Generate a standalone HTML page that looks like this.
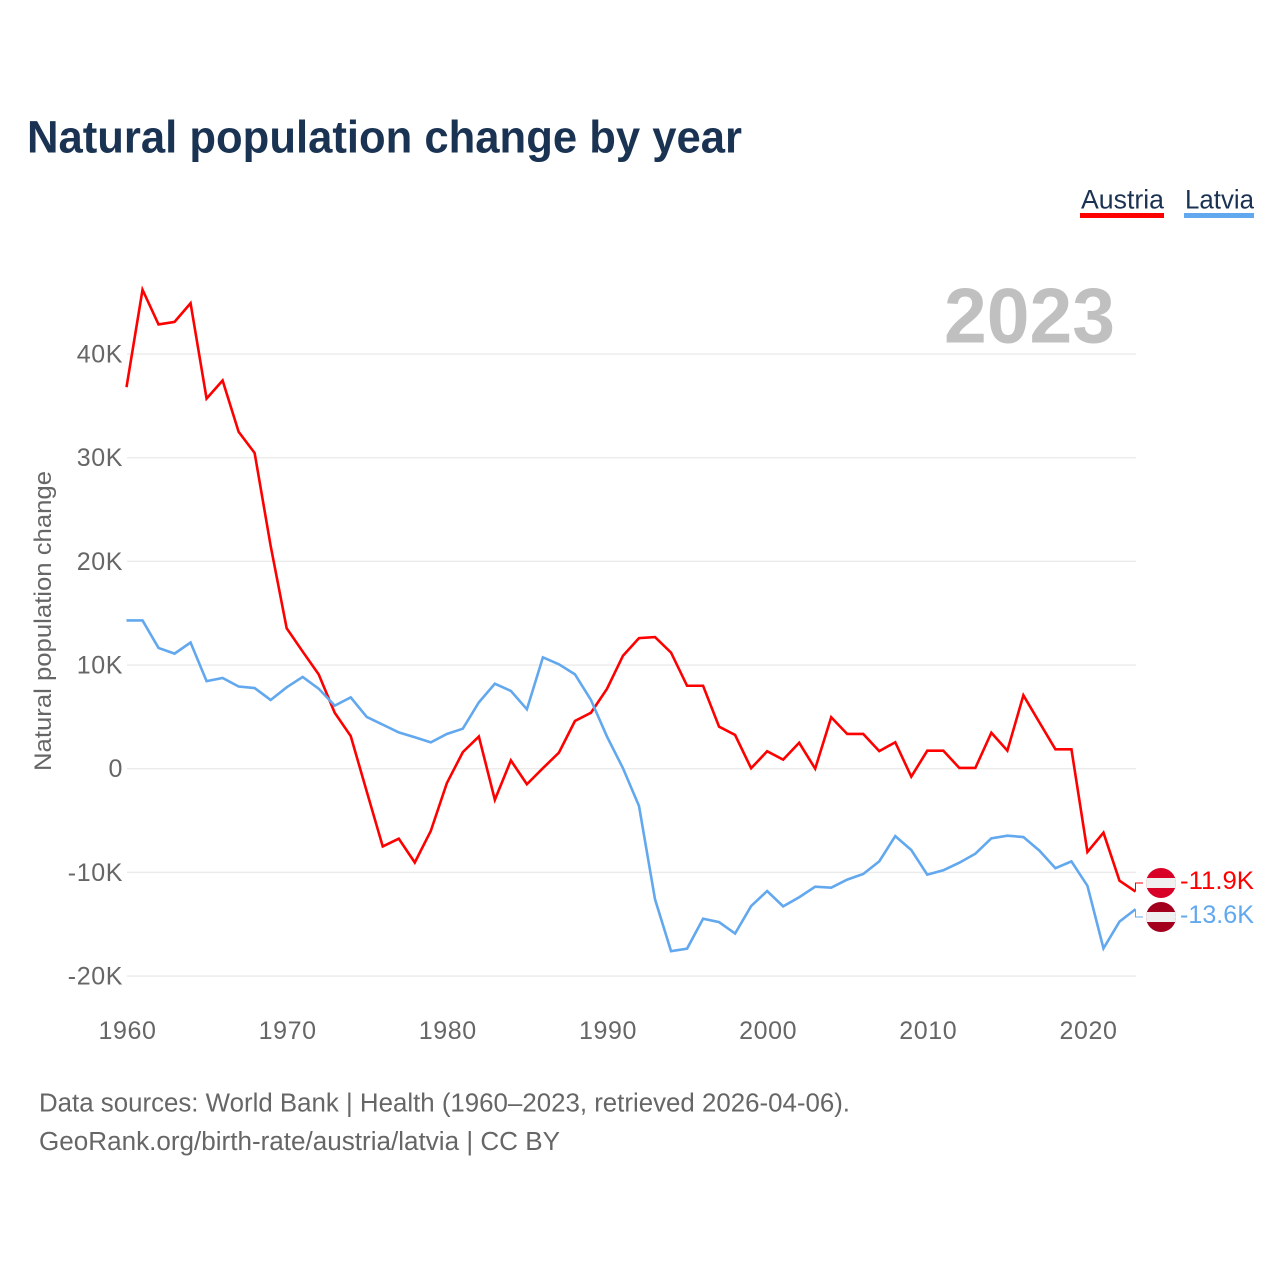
<!DOCTYPE html>
<html lang="en">
<head>
<meta charset="utf-8">
<title>Natural population change by year</title>
<style>
html,body{margin:0;padding:0;background:#fff;width:1280px;height:1280px;overflow:hidden}
svg{display:block}
text{font-family:"Liberation Sans",sans-serif}
</style>
</head>
<body>
<svg id="chart" xmlns="http://www.w3.org/2000/svg" width="1280" height="1280" viewBox="0 0 1280 1280">
  <defs>
    <clipPath id="clip-flag-austria"><circle cx="1161" cy="883" r="15"/></clipPath>
    <clipPath id="clip-flag-latvia"><circle cx="1161" cy="917" r="15"/></clipPath>
  </defs>
  <text x="27" y="152.5" font-size="45" font-weight="700" fill="#1a3353" textLength="715" lengthAdjust="spacingAndGlyphs">Natural population change by year</text>
  <g>
    <g>
      <text x="1081" y="208.5" font-size="26.5" fill="#1a3353" textLength="83" lengthAdjust="spacingAndGlyphs">Austria</text>
      <rect x="1080" y="213" width="84" height="5" fill="#ff0000"/>
    </g>
    <g>
      <text x="1185" y="208.5" font-size="26.5" fill="#1a3353" textLength="69" lengthAdjust="spacingAndGlyphs">Latvia</text>
      <rect x="1184" y="213" width="70" height="5" fill="#62a8ee"/>
    </g>
  </g>
  <text x="944" y="342.5" font-size="78" font-weight="700" fill="#c0c0c0" textLength="171" lengthAdjust="spacingAndGlyphs">2023</text>
  <text transform="translate(51,621) rotate(-90)" text-anchor="middle" font-size="24" fill="#666666" textLength="300" lengthAdjust="spacingAndGlyphs">Natural population change</text>
  <g id="grid"></g>
  <g id="yticks"></g>
  <g id="xticks"></g>
  <g id="series"></g>
  <g>
    <circle cx="1161" cy="883" r="15" fill="#d80027"/>
    <rect x="1146" y="878" width="30" height="10" fill="#f0f0f0" clip-path="url(#clip-flag-austria)"/>
  </g>
  <g>
    <circle cx="1161" cy="917" r="15" fill="#a2001d"/>
    <rect x="1146" y="912" width="30" height="10" fill="#f0f0f0" clip-path="url(#clip-flag-latvia)"/>
  </g>
  <g id="endlabels"></g>
  <text x="39" y="1111.5" font-size="25.5" fill="#666666" textLength="811" lengthAdjust="spacingAndGlyphs">Data sources: World Bank | Health (1960–2023, retrieved 2026-04-06).</text>
  <text x="39" y="1150" font-size="25.5" fill="#666666" textLength="521" lengthAdjust="spacingAndGlyphs">GeoRank.org/birth-rate/austria/latvia | CC BY</text>
</svg>
<script>
const startYear = 1960;
const endYear = 2023;
const austria = [36.8,46.2,42.85,43.1,44.9,35.7,37.45,32.5,30.45,21.5,13.55,11.3,9.1,5.4,3.15,-2.2,-7.5,-6.75,-9.05,-6.0,-1.4,1.6,3.1,-3.0,0.8,-1.5,0.05,1.55,4.6,5.4,7.7,10.9,12.6,12.7,11.2,8.0,8.0,4.05,3.25,0.04,1.68,0.87,2.5,0,4.96,3.35,3.35,1.7,2.55,-0.77,1.74,1.74,0.07,0.07,3.47,1.74,7.08,4.47,1.87,1.87,-8.03,-6.17,-10.8,-11.85];
const latvia = [14.3,14.3,11.65,11.1,12.17,8.45,8.75,7.93,7.78,6.63,7.85,8.85,7.72,6.08,6.88,4.99,4.25,3.5,3.03,2.54,3.35,3.86,6.4,8.2,7.5,5.73,10.74,10.07,9.1,6.63,3.1,0.04,-3.6,-12.6,-17.6,-17.36,-14.47,-14.8,-15.9,-13.25,-11.8,-13.28,-12.4,-11.38,-11.48,-10.7,-10.16,-8.94,-6.5,-7.84,-10.22,-9.8,-9.07,-8.2,-6.72,-6.46,-6.59,-7.9,-9.6,-8.94,-11.3,-17.33,-14.75,-13.56];
const yTickValues = [40,30,20,10,0,-10,-20];
const yTickLabels = ["40K","30K","20K","10K","0","-10K","-20K"];
const xTickYears = [1960,1970,1980,1990,2000,2010,2020];
const austriaEndLabel = "-11.9K";
const latviaEndLabel = "-13.6K";

const NS = "http://www.w3.org/2000/svg";
const xScale = function (year) { return 126.5 + (year - startYear) * (1135.5 - 126.5) / (endYear - startYear); };
const yScale = function (v) { return 768.7 - v * 10.367; };

const grid = document.getElementById("grid");
const yticks = document.getElementById("yticks");
const xticks = document.getElementById("xticks");
const series = document.getElementById("series");
const endlabels = document.getElementById("endlabels");

yTickValues.forEach(function (v, i) {
  const line = document.createElementNS(NS, "line");
  
  
  line.setAttribute("x1", 127);
  line.setAttribute("x2", 1136);
  line.setAttribute("y1", yScale(v));
  line.setAttribute("y2", yScale(v));
  line.setAttribute("stroke", "#ebebeb");
  line.setAttribute("stroke-width", "1.4");
  grid.appendChild(line);

  const t = document.createElementNS(NS, "text");
  
  
  t.setAttribute("x", 123);
  t.setAttribute("y", yScale(v) + 8.5);
  t.setAttribute("text-anchor", "end");
  t.setAttribute("font-size", "25");
  t.setAttribute("letter-spacing", "0.6");
  t.setAttribute("fill", "#666666");
  t.textContent = yTickLabels[i];
  yticks.appendChild(t);
});

xTickYears.forEach(function (year) {
  const t = document.createElementNS(NS, "text");
  
  
  t.setAttribute("x", xScale(year) + 1);
  t.setAttribute("y", 1039);
  t.setAttribute("text-anchor", "middle");
  t.setAttribute("font-size", "25");
  t.setAttribute("letter-spacing", "0.6");
  t.setAttribute("fill", "#666666");
  t.textContent = String(year);
  xticks.appendChild(t);
});

function linePoints(values) {
  return values.map(function (v, i) {
    return xScale(startYear + i).toFixed(2) + "," + yScale(v).toFixed(2);
  }).join(" ");
}

const austriaLine = document.createElementNS(NS, "polyline");


austriaLine.setAttribute("points", linePoints(austria));
austriaLine.setAttribute("fill", "none");
austriaLine.setAttribute("stroke", "#ff0000");
austriaLine.setAttribute("stroke-width", "2.6");
series.appendChild(austriaLine);

const latviaLine = document.createElementNS(NS, "polyline");


latviaLine.setAttribute("points", linePoints(latvia));
latviaLine.setAttribute("fill", "none");
latviaLine.setAttribute("stroke", "#62a8ee");
latviaLine.setAttribute("stroke-width", "2.6");
series.appendChild(latviaLine);

const endX = xScale(endYear);

const austriaConnector = document.createElementNS(NS, "polyline");


austriaConnector.setAttribute("points", endX + "," + yScale(austria[austria.length - 1]) + " " + endX + ",883 1143,883");
austriaConnector.setAttribute("fill", "none");
austriaConnector.setAttribute("stroke", "#ff0000");
austriaConnector.setAttribute("stroke-width", "1");
series.appendChild(austriaConnector);

const latviaConnector = document.createElementNS(NS, "polyline");


latviaConnector.setAttribute("points", endX + "," + yScale(latvia[latvia.length - 1]) + " " + endX + ",917 1143,917");
latviaConnector.setAttribute("fill", "none");
latviaConnector.setAttribute("stroke", "#62a8ee");
latviaConnector.setAttribute("stroke-width", "1");
series.appendChild(latviaConnector);

const austriaValue = document.createElementNS(NS, "text");


austriaValue.setAttribute("x", 1180);
austriaValue.setAttribute("y", 889);
austriaValue.setAttribute("font-size", "25");
austriaValue.setAttribute("fill", "#ff0000");
austriaValue.setAttribute("textLength", "74");
austriaValue.setAttribute("lengthAdjust", "spacingAndGlyphs");
austriaValue.textContent = austriaEndLabel;
endlabels.appendChild(austriaValue);

const latviaValue = document.createElementNS(NS, "text");


latviaValue.setAttribute("x", 1180);
latviaValue.setAttribute("y", 923);
latviaValue.setAttribute("font-size", "25");
latviaValue.setAttribute("fill", "#62a8ee");
latviaValue.setAttribute("textLength", "74");
latviaValue.setAttribute("lengthAdjust", "spacingAndGlyphs");
latviaValue.textContent = latviaEndLabel;
endlabels.appendChild(latviaValue);
</script>
</body>
</html>
